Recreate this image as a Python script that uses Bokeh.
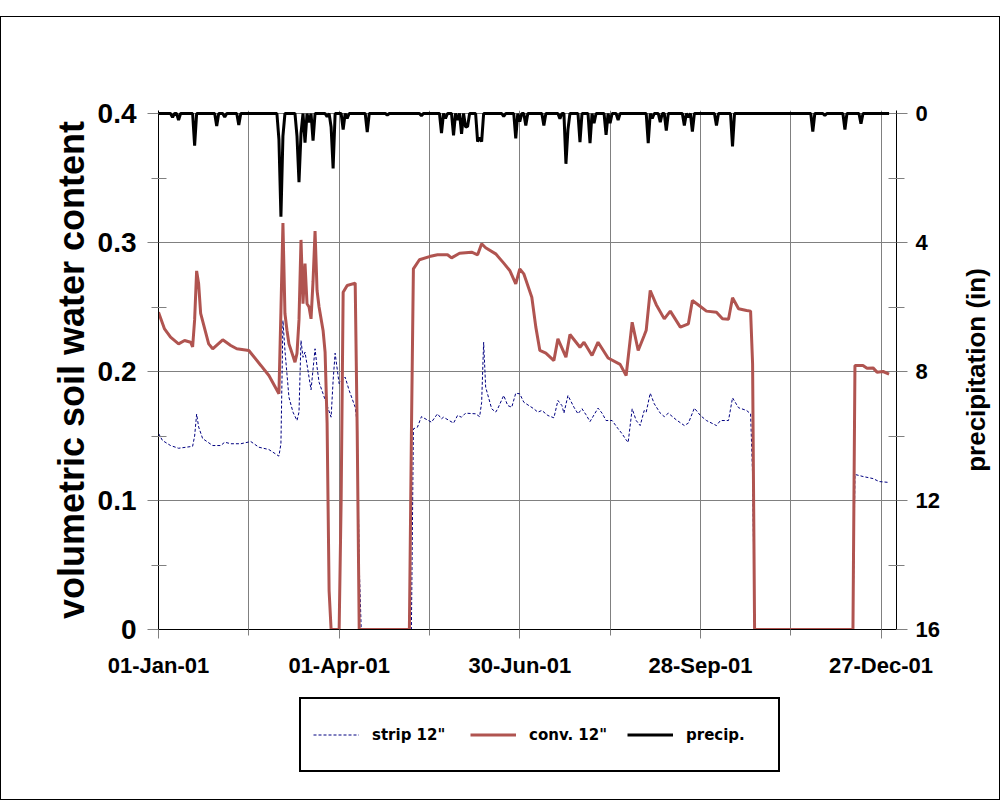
from bokeh.plotting import figure
from bokeh.layouts import row, column
from bokeh.models import Range1d, LinearAxis, FixedTicker, Legend, LegendItem
from bokeh.embed import file_html
from bokeh.resources import INLINE

# ---------------- data ----------------
x_tick_days = [0, 90, 180, 270, 360]
x_tick_labels = ["01-Jan-01", "01-Apr-01", "30-Jun-01", "28-Sep-01", "27-Dec-01"]
x_grid_days = [45, 90, 135, 180, 225, 270, 315, 360]
x_minor_days = [45, 135, 225, 315]

vwc_ticks = [0, 0.1, 0.2, 0.3, 0.4]
vwc_minor = [0.05, 0.15, 0.25, 0.35]
prec_ticks = [0, 4, 8, 12, 16]
prec_minor = [2, 6, 10, 14]

series_labels = ['strip 12"', 'conv. 12"', 'precip.']
left_title = "volumetric soil water content"
right_title = "precipitation (in)"

strip_day = [0, 2, 6, 10, 17, 18, 19, 20, 22, 27, 31, 33, 36, 41, 46, 50, 55, 60, 61, 62,
             63, 65, 67, 69, 70, 71, 72, 73, 75, 76, 78, 79, 80, 82, 84, 86, 87, 88, 90, 93,
             95, 98, 99, 100, 101, 126, 127, 129, 131, 136, 139, 141, 142, 147, 149, 151, 153,
             158, 160, 161, 162, 163, 166, 168, 169, 172, 174, 176, 178, 180, 182, 187, 189,
             191, 194, 197, 199, 201, 202, 204, 207, 209, 211, 213, 215, 219, 221, 223, 226,
             229, 231, 233, 234, 236, 238, 240, 242, 243, 245, 247, 250, 252, 254, 258, 262,
             264, 267, 270, 273, 278, 280, 284, 286, 289, 293, 295, 296, 297, 346, 347, 351,
             356, 359, 364]
strip_vwc = [0.152, 0.1465, 0.1426, 0.1405, 0.142, 0.150, 0.167, 0.157, 0.148, 0.1426, 0.1426,
             0.1452, 0.144, 0.144, 0.1457, 0.1413, 0.1395, 0.1344, 0.144, 0.2395,
             0.2163, 0.18, 0.1685, 0.162, 0.1685, 0.224, 0.211, 0.215, 0.1956, 0.1858, 0.2176,
             0.2033, 0.1917, 0.1827, 0.1736, 0.1646, 0.193, 0.2142, 0.1905, 0.1956,
             0.1853, 0.1723, 0.16, 0.05, 0.0, 0.0, 0.1556, 0.1568, 0.165, 0.1607, 0.1672, 0.1633,
             0.1646, 0.16, 0.1659, 0.1646, 0.1677,
             0.1672, 0.165, 0.176, 0.2227, 0.1879, 0.1711, 0.1685, 0.1711, 0.1814, 0.1736, 0.1723,
             0.1832, 0.1827, 0.1762, 0.1711, 0.1685,
             0.1698, 0.1659, 0.1641, 0.1775, 0.1736, 0.1677, 0.1814, 0.1723, 0.1672, 0.1711,
             0.1665, 0.1612, 0.1716, 0.1677, 0.162, 0.162,
             0.1556, 0.1517, 0.147, 0.145, 0.1711, 0.162, 0.1581, 0.1698, 0.1685, 0.1832, 0.175,
             0.1677, 0.165, 0.1677, 0.1625, 0.1581,
             0.16, 0.1716, 0.1659, 0.162, 0.1581, 0.162, 0.162, 0.1796, 0.1719, 0.1698, 0.1672,
             0.12, 0.0, 0.0, 0.1202, 0.1186,
             0.117, 0.1147, 0.114]

conv_day = [0, 3, 6, 10, 13, 16, 17, 18, 19, 20, 21, 25, 27, 32, 36, 39, 45, 51, 55, 60, 61, 62,
            63, 64, 65, 67, 68, 69, 70, 71, 72, 73, 74, 75, 76, 77, 78, 79, 80, 82, 83, 84, 85,
            86, 90, 91, 92, 94, 98, 99, 100, 125, 126, 127, 130, 135, 139, 144, 146, 150, 156,
            159, 161, 163, 168, 172, 175, 178, 180, 182, 186, 188, 190, 193, 197, 199, 203, 205,
            210, 212, 216, 219, 224, 230, 233, 236, 239, 242, 243, 245, 248, 252, 255, 260, 264,
            266, 270, 273, 278, 281, 284, 286, 289, 293, 295, 296, 297, 346, 347, 351, 353, 356,
            358, 361, 364]
conv_vwc = [0.246, 0.233, 0.2266, 0.2214, 0.224, 0.2227, 0.219, 0.240, 0.278, 0.268, 0.245,
            0.2214, 0.2176, 0.2246, 0.2202, 0.2176, 0.2163, 0.2047, 0.1969, 0.1827, 0.247, 0.315,
            0.245, 0.232, 0.2214, 0.212, 0.2072, 0.214, 0.24, 0.302, 0.2525, 0.2837, 0.2525, 0.25,
            0.2408, 0.27, 0.3088, 0.2628, 0.25, 0.2318, 0.215, 0.16, 0.03,
            0.0, 0.0, 0.1, 0.2615, 0.2667, 0.2685, 0.154, 0.0, 0.0, 0.15, 0.2796, 0.2866, 0.2891,
            0.2905, 0.2905, 0.2881, 0.2917, 0.2925,
            0.2905, 0.299, 0.2959, 0.2912, 0.284, 0.2783, 0.268, 0.2796, 0.2757, 0.2576, 0.2344,
            0.2163, 0.2142, 0.2085, 0.2253, 0.2111, 0.2287,
            0.2188, 0.2227, 0.2124, 0.2227, 0.2105, 0.2055, 0.1969, 0.2382, 0.2163, 0.2279, 0.232,
            0.2628, 0.2518, 0.2408, 0.2468, 0.2344, 0.237,
            0.255, 0.2504, 0.2468, 0.246, 0.2408, 0.2405, 0.2571, 0.2486, 0.2473, 0.2468, 0.206,
            0.0, 0.0, 0.2047, 0.2047, 0.2026, 0.2028,
            0.1995, 0.2, 0.198]

# rain days (day of year, inches); all other days of 2001 had no rain
precip_day = [7, 10, 18, 29, 33, 40, 60, 61, 62, 69, 70, 71, 73, 75, 77, 84, 86, 87, 92, 94,
              104, 114, 131, 141, 143, 147, 149, 151, 153, 154, 159, 160, 161, 172, 178, 180,
              183, 192, 200, 203, 204, 210, 215, 217, 223, 225, 229, 244, 246, 250, 253, 262,
              264, 266, 278, 286, 326, 332, 342, 350]
precip_in = [0.12, 0.2, 1.0, 0.39, 0.11, 0.36, 0.8, 3.2, 0.7, 0.7, 2.13, 0.62, 0.9, 0.28, 0.84,
             0.1, 0.42, 1.7, 0.5, 0.15,
             0.58, 0.05, 0.07, 0.61, 0.15, 0.68, 0.2, 0.63, 0.42, 0.4, 0.87, 0.75, 0.87, 0.09,
             0.77, 0.25,
             0.37, 0.37, 0.16, 1.56, 0.5, 0.89, 0.92, 0.3, 0.66, 0.3, 0.2, 0.92, 0.15, 0.27, 0.53,
             0.37,
             0.12, 0.56, 0.37, 1.02, 0.56, 0.06, 0.5, 0.32]
n_days = 365

# daily table for the precipitation line
all_days = list(range(n_days))
daily_precip = [0.0] * n_days
for d, v in zip(precip_day, precip_in):
    daily_precip[d] = v

STRIP_STYLE = dict(line_color="#000080", line_width=1, line_dash="3 2")
CONV_STYLE = dict(line_color="#B05450", line_width=3)
PREC_STYLE = dict(line_color="black", line_width=3)

grid_col = "#808080"
FONT = "Liberation Sans"

# ---------------- main figure ----------------
pad = 3 / 1290.0
H1 = 668
TOP = 93
BOTTOM = 56
p = figure(width=941, height=H1, output_backend="svg", toolbar_location=None,
           x_range=Range1d(0, 367.7), y_range=Range1d(0, 0.4 + pad),
           min_border_left=157, min_border_right=45, min_border_top=TOP,
           min_border_bottom=BOTTOM)
p.extra_y_ranges = {"precip": Range1d(16, -pad * 40)}
p.outline_line_color = None
p.background_fill_color = "white"
p.border_fill_color = "white"

# grids
p.xgrid.ticker = FixedTicker(ticks=x_grid_days)
p.ygrid.ticker = FixedTicker(ticks=vwc_ticks)
for g in (p.xgrid, p.ygrid):
    g.grid_line_color = grid_col
    g.grid_line_width = 1

# x axis
xa = p.xaxis[0]
xa.ticker = FixedTicker(ticks=x_tick_days, minor_ticks=x_minor_days)
xa.major_label_overrides = {d: l for d, l in zip(x_tick_days, x_tick_labels)}
xa.axis_line_color = "black"
xa.major_tick_line_color = grid_col
xa.minor_tick_line_color = grid_col
xa.major_tick_in = 0
xa.major_tick_out = 9
xa.minor_tick_in = 0
xa.minor_tick_out = 6
xa.major_label_standoff = 14
xa.major_label_text_font = FONT
xa.major_label_text_font_style = "bold"
xa.major_label_text_font_size = "22px"
xa.major_label_text_color = "black"

# left axis
ya = p.yaxis[0]
ya.ticker = FixedTicker(ticks=vwc_ticks, minor_ticks=vwc_minor)
ya.major_label_overrides = {0: "0"}
ya.axis_label = left_title
ya.axis_label_text_font = FONT
ya.axis_label_text_font_style = "bold"
ya.axis_label_text_font_size = "36px"
ya.axis_label_text_color = "black"
ya.axis_label_standoff = 3
ya.axis_line_color = "black"
ya.major_tick_line_color = grid_col
ya.minor_tick_line_color = grid_col
ya.major_tick_in = 0
ya.major_tick_out = 11
ya.minor_tick_in = 8
ya.minor_tick_out = 7
ya.major_label_standoff = 11
ya.major_label_text_font = FONT
ya.major_label_text_font_style = "bold"
ya.major_label_text_font_size = "28px"
ya.major_label_text_color = "black"

# right axis (precipitation, inverted)
ra = LinearAxis(y_range_name="precip",
                ticker=FixedTicker(ticks=prec_ticks, minor_ticks=prec_minor))
ra.axis_line_color = "black"
ra.major_tick_line_color = grid_col
ra.minor_tick_line_color = grid_col
ra.major_tick_in = 0
ra.major_tick_out = 11
ra.minor_tick_in = 8
ra.minor_tick_out = 8
ra.major_label_standoff = 8
ra.major_label_text_font = FONT
ra.major_label_text_font_style = "bold"
ra.major_label_text_font_size = "22px"
ra.major_label_text_color = "black"
p.add_layout(ra, "right")

# series
p.line(strip_day, strip_vwc, **STRIP_STYLE)
p.line(conv_day, conv_vwc, **CONV_STYLE)
p.line(all_days, daily_precip, y_range_name="precip", **PREC_STYLE)

# ---------------- narrow strip holding the right-hand title ----------------
p2 = figure(width=57, height=H1, output_backend="svg", toolbar_location=None,
            x_range=Range1d(0, 1), y_range=Range1d(0, 1),
            min_border_left=49, min_border_right=0, min_border_top=TOP,
            min_border_bottom=BOTTOM)
p2.outline_line_color = None
p2.xaxis.visible = False
p2.xgrid.visible = False
p2.ygrid.visible = False
t2 = p2.yaxis[0]
t2.ticker = FixedTicker(ticks=[])
t2.axis_line_color = None
t2.major_tick_line_color = None
t2.minor_tick_line_color = None
t2.major_tick_out = 0
t2.minor_tick_out = 0
t2.major_label_text_font_size = "0px"
t2.axis_label = right_title
t2.axis_label_text_font = FONT
t2.axis_label_text_font_style = "bold"
t2.axis_label_text_font_size = "26px"
t2.axis_label_text_color = "black"
t2.axis_label_standoff = 1

# ---------------- legend strip ----------------
# the series are drawn again here only to give the legend its glyphs; the view
# range lies far from the data so none of it is visible in this strip
H3 = 114
p3 = figure(width=998, height=H3, output_backend="svg", toolbar_location=None,
            x_range=Range1d(0, 1), y_range=Range1d(-20, -19),
            x_axis_location=None, y_axis_location=None,
            min_border_left=0, min_border_right=0, min_border_top=0, min_border_bottom=0)
p3.outline_line_color = None
p3.xgrid.visible = False
p3.ygrid.visible = False
k_strip = p3.line(strip_day, strip_vwc, **STRIP_STYLE)
k_conv = p3.line(conv_day, conv_vwc, **CONV_STYLE)
k_prec = p3.line(all_days, daily_precip, **PREC_STYLE)

legend = Legend(items=[LegendItem(label=series_labels[0], renderers=[k_strip]),
                       LegendItem(label=series_labels[1], renderers=[k_conv]),
                       LegendItem(label=series_labels[2], renderers=[k_prec])],
                orientation="horizontal", location=(298, 27))
legend.border_line_color = "black"
legend.border_line_alpha = 1.0
legend.border_line_width = 2
legend.background_fill_color = "white"
legend.background_fill_alpha = 1.0
legend.padding = 12
legend.margin = 0
legend.spacing = 18
legend.glyph_width = 46
legend.glyph_height = 47
legend.label_height = 47
legend.label_width = 80
legend.label_standoff = 13
legend.label_text_font = "DejaVu Sans"
legend.label_text_font_style = "bold"
legend.label_text_font_size = "15px"
legend.label_text_color = "black"
p3.add_layout(legend, "center")

layout = column(row(p, p2), p3)
layout.styles = {"border": "1px solid black", "margin-top": "16px"}

open("out.html", "w").write(file_html(layout, INLINE))
